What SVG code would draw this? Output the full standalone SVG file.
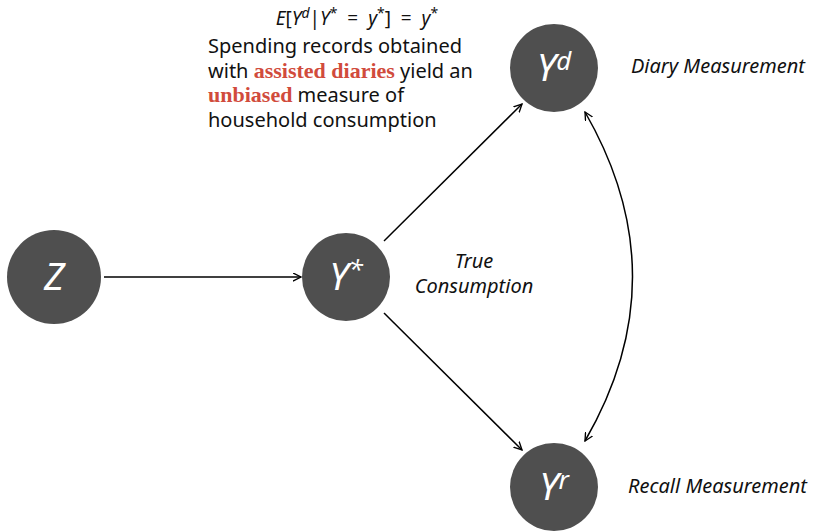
<svg xmlns="http://www.w3.org/2000/svg" width="814" height="531" viewBox="0 0 814 531">
<style>
.node{fill:#4f4f4f}
.nl{font-family:"Noto Sans",sans-serif;font-style:italic;fill:#ffffff;font-size:38px}
.sup{font-size:26px}
.lab{font-family:"Noto Sans",sans-serif;font-style:italic;font-size:20px;fill:#111}
.txt{font-family:"Noto Sans",sans-serif;font-size:20px;fill:#111}
.red{font-family:"Liberation Serif",serif;font-weight:bold;fill:#d14b3c;font-size:22px}
.edge{stroke:#000;stroke-width:1.5;fill:none}
</style>
<defs>
<marker id="ah" viewBox="0 0 10 10" refX="9" refY="5" markerWidth="9" markerHeight="9" markerUnits="userSpaceOnUse" orient="auto-start-reverse">
<path d="M0,0.5 L9,5 L0,9.5" fill="none" stroke="#000" stroke-width="1.5"/>
</marker>
</defs>
<g id="connectors">
<line class="edge" x1="104" y1="277" x2="301" y2="277" marker-end="url(#ah)"/>
<line class="edge" x1="384" y1="241" x2="522" y2="104" marker-end="url(#ah)"/>
<line class="edge" x1="384" y1="313" x2="522" y2="450" marker-end="url(#ah)"/>
<path class="edge" d="M585,112 Q680,277 585,441" marker-start="url(#ah)" marker-end="url(#ah)"/>
</g>
<g id="node-Z">
<circle class="node" cx="54" cy="277" r="47"/>
<text class="nl" x="54" y="290" text-anchor="middle">Z</text>
</g>
<g id="node-Ystar">
<circle class="node" cx="346" cy="277" r="44"/>
<text class="nl" x="346" y="290" text-anchor="middle">Y<tspan class="sup" dy="-12">*</tspan></text>
</g>
<g id="node-Yd">
<circle class="node" cx="554" cy="68" r="44"/>
<text class="nl" x="554" y="81" text-anchor="middle">Y<tspan class="sup" dy="-11">d</tspan></text>
</g>
<g id="node-Yr">
<circle class="node" cx="554" cy="487" r="44"/>
<text class="nl" x="554" y="500" text-anchor="middle">Y<tspan class="sup" dy="-11">r</tspan></text>
</g>
<g id="labels">
<text class="lab" x="631" y="73">Diary Measurement</text>
<text class="lab" x="628" y="493">Recall Measurement</text>
<text class="lab" x="474" y="268" text-anchor="middle">True</text>
<text class="lab" x="474" y="293" text-anchor="middle">Consumption</text>
<text class="txt" x="357" y="25" text-anchor="middle" style="font-size:19px" xml:space="preserve"><tspan font-style="italic">E</tspan>[<tspan font-style="italic">Y</tspan><tspan font-style="italic" font-size="14" dy="-7">d</tspan><tspan dy="7">|</tspan><tspan font-style="italic">Y</tspan><tspan font-size="14" dy="-7">*</tspan><tspan dy="7">  =  </tspan><tspan font-style="italic">y</tspan><tspan font-size="14" dy="-7">*</tspan><tspan dy="7">]  =  </tspan><tspan font-style="italic">y</tspan><tspan font-size="14" dy="-7">*</tspan></text>
<text class="txt" x="208" y="53">Spending records obtained</text>
<text class="txt" x="208" y="78">with <tspan class="red">assisted diaries</tspan> yield an</text>
<text class="txt" x="208" y="102"><tspan class="red">unbiased</tspan> measure of</text>
<text class="txt" x="208" y="127">household consumption</text>
</g>
</svg>
